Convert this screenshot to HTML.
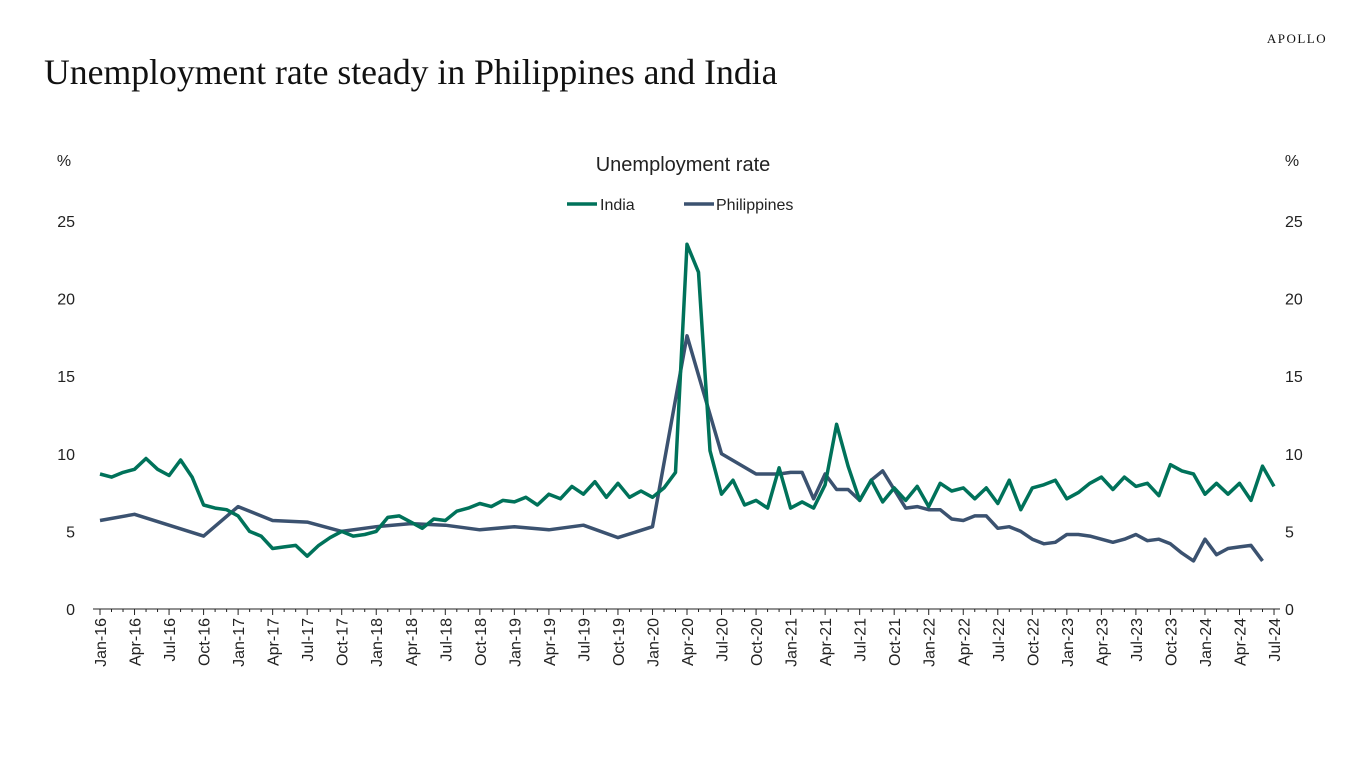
<!DOCTYPE html>
<html><head><meta charset="utf-8"><style>
body{margin:0;width:1366px;height:768px;background:#fff;overflow:hidden}
svg{display:block}
</style></head><body>
<svg id="s" width="1366" height="768" xmlns="http://www.w3.org/2000/svg" font-family="'Liberation Sans',sans-serif">
<text x="1297" y="43" font-family="'Liberation Serif',serif" font-size="13" letter-spacing="1.5" text-anchor="middle" fill="#111">APOLLO</text>
<text x="44" y="84" font-family="'Liberation Serif',serif" font-size="35.7" fill="#111">Unemployment rate steady in Philippines and India</text>
<text x="683" y="171" font-size="20" text-anchor="middle" fill="#222">Unemployment rate</text>
<text x="64" y="166" font-size="16" text-anchor="middle" fill="#222">%</text>
<text x="1292" y="166" font-size="16" text-anchor="middle" fill="#222">%</text>
<line x1="567" y1="204" x2="597" y2="204" stroke="#00725a" stroke-width="3.5"/>
<text x="600" y="210" font-size="16" fill="#222">India</text>
<line x1="684" y1="204" x2="714" y2="204" stroke="#3b5270" stroke-width="3.5"/>
<text x="716" y="210" font-size="16" fill="#222">Philippines</text>
<g id="g"></g>
</svg>
<script>
var g=document.getElementById('g'),h='';
function X(i){return 100+i*11.51}function Y(v){return 609-v*15.52}
for(var k=0;k<=25;k+=5){h+='<text x="75" y="'+(Y(k)+6)+'" font-size="16" text-anchor="end" fill="#222">'+k+'</text>';
h+='<text x="1285" y="'+(Y(k)+6)+'" font-size="16" fill="#222">'+k+'</text>';}
h+='<line x1="93" y1="609" x2="1280" y2="609" stroke="#222" stroke-width="1"/>';
var m=['Jan','Apr','Jul','Oct'];
for(var i=0;i<=102;i++){h+='<line x1="'+X(i)+'" y1="609" x2="'+X(i)+'" y2="'+(i%3==0?615:612)+'" stroke="#222" stroke-width="1"/>';
if(i%3==0){var yr=16+Math.floor(i/12);var lab=m[(i%12)/3]+'-'+yr;
h+='<text transform="translate('+(X(i)+6)+',618) rotate(-90)" font-size="16" text-anchor="end" fill="#222">'+lab+'</text>';}}
var ind=[8.7,8.5,8.8,9.0,9.7,9.0,8.6,9.6,8.5,6.7,6.5,6.4,6.0,5.0,4.7,3.9,4.0,4.1,3.4,4.1,4.6,5.0,4.7,4.8,5.0,5.9,6.0,5.6,5.2,5.8,5.7,6.3,6.5,6.8,6.6,7.0,6.9,7.2,6.7,7.4,7.1,7.9,7.4,8.2,7.2,8.1,7.2,7.6,7.2,7.8,8.8,23.5,21.7,10.2,7.4,8.3,6.7,7.0,6.5,9.1,6.5,6.9,6.5,8.0,11.9,9.2,7.0,8.3,6.9,7.8,7.0,7.9,6.6,8.1,7.6,7.8,7.1,7.8,6.8,8.3,6.4,7.8,8.0,8.3,7.1,7.5,8.1,8.5,7.7,8.5,7.9,8.1,7.3,9.3,8.9,8.7,7.4,8.1,7.4,8.1,7.0,9.2,7.9];
var ph=[[0,5.7],[3,6.1],[9,4.7],[12,6.6],[15,5.7],[18,5.6],[21,5.0],[24,5.3],[27,5.5],[30,5.4],[33,5.1],[36,5.3],[39,5.1],[42,5.4],[45,4.6],[48,5.3],[51,17.6],[54,10.0],[57,8.7],[58,8.7],[59,8.7],[60,8.8],[61,8.8],[62,7.1],[63,8.7],[64,7.7],[65,7.7],[66,7.0],[67,8.3],[68,8.9],[69,7.7],[70,6.5],[71,6.6],[72,6.4],[73,6.4],[74,5.8],[75,5.7],[76,6.0],[77,6.0],[78,5.2],[79,5.3],[80,5.0],[81,4.5],[82,4.2],[83,4.3],[84,4.8],[85,4.8],[86,4.7],[87,4.5],[88,4.3],[89,4.5],[90,4.8],[91,4.4],[92,4.5],[93,4.2],[94,3.6],[95,3.1],[96,4.5],[97,3.5],[98,3.9],[99,4.0],[100,4.1],[101,3.1]];
var p='';ind.forEach(function(v,i){p+=X(i).toFixed(1)+','+Y(v).toFixed(1)+' '});
var q='';ph.forEach(function(a){q+=X(a[0]).toFixed(1)+','+Y(a[1]).toFixed(1)+' '});
h+='<polyline points="'+q+'" fill="none" stroke="#3b5270" stroke-width="3.5" stroke-linejoin="round"/>';
h+='<polyline points="'+p+'" fill="none" stroke="#00725a" stroke-width="3.5" stroke-linejoin="round"/>';
g.innerHTML=h;
</script>
</body></html>
